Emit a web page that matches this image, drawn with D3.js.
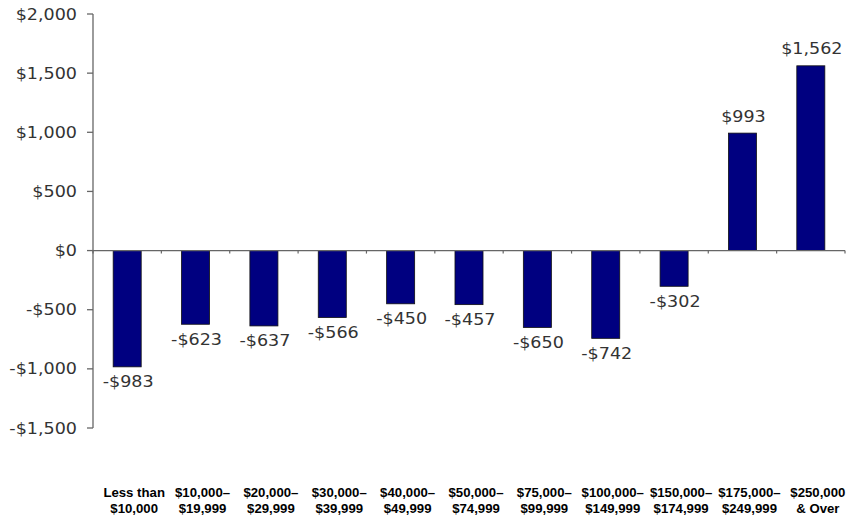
<!DOCTYPE html>
<html><head><meta charset="utf-8">
<script src="https://cdn.jsdelivr.net/npm/d3@7"></script>
<style>body{margin:0;background:#fff;} svg{display:block;}</style>
</head><body>
<svg id="chart" width="850" height="518"></svg>
<script>
const categoriesLine1 = ["Less than","$10,000–","$20,000–","$30,000–","$40,000–","$50,000–","$75,000–","$100,000–","$150,000–","$175,000–","$250,000"];
const categoriesLine2 = ["$10,000","$19,999","$29,999","$39,999","$49,999","$74,999","$99,999","$149,999","$174,999","$249,999","& Over"];
const values = [-983,-623,-637,-566,-450,-457,-650,-742,-302,993,1562];
const valueLabels = ["-$983","-$623","-$637","-$566","-$450","-$457","-$650","-$742","-$302","$993","$1,562"];
const yTicks = [2000,1500,1000,500,0,-500,-1000,-1500];
const yTickLabels = ["$2,000","$1,500","$1,000","$500","$0","-$500","-$1,000","-$1,500"];

(function(){
const svg = d3.select("#chart");
const mLeft = 93, mRight = 845, mTop = 14, mBottom = 428;
const stretch = 1.17;

const x = d3.scaleBand().domain(d3.range(values.length)).range([mLeft, mRight]).padding(0);
const y = d3.scaleLinear().domain([-1500, 2000]).range([mBottom, mTop]);
const barW = x.bandwidth() * 0.41;

// bars
svg.append("g").selectAll("rect").data(values).join("rect")
  .attr("x", (d,i) => x(i) + x.bandwidth()/2 - barW/2)
  .attr("y", d => y(Math.max(0,d)))
  .attr("width", barW)
  .attr("height", d => Math.abs(y(d) - y(0)))
  .attr("fill", "#000080")
  .attr("stroke", "#111")
  .attr("stroke-width", 0.8);

// y axis
const yAxis = svg.append("g");
yAxis.append("line").attr("x1", mLeft).attr("x2", mLeft).attr("y1", y(2000)).attr("y2", y(-1500))
  .attr("stroke", "#666").attr("stroke-width", 1.3);
yAxis.selectAll("line.tk").data(yTicks).join("line").attr("class","tk")
  .attr("x1", mLeft - 6).attr("x2", mLeft).attr("y1", d => y(d)).attr("y2", d => y(d))
  .attr("stroke", "#666").attr("stroke-width", 1.3);
yAxis.selectAll("text").data(yTicks).join("text")
  .attr("transform", d => `translate(${mLeft - 16},${y(d) + 5.5}) scale(${stretch},1)`)
  .attr("text-anchor", "end")
  .attr("font-family", "DejaVu Sans, Verdana, sans-serif")
  .attr("font-size", 15)
  .attr("fill", "#333")
  .text((d,i) => yTickLabels[i]);

// x axis along zero
const xAxis = svg.append("g");
xAxis.append("line").attr("x1", mLeft).attr("x2", mRight).attr("y1", y(0)).attr("y2", y(0))
  .attr("stroke", "#666").attr("stroke-width", 1.3);
const boundaries = d3.range(values.length + 1).map(i => mLeft + i * x.bandwidth());
xAxis.selectAll("line.tk").data(boundaries).join("line").attr("class","tk")
  .attr("x1", d => d).attr("x2", d => d).attr("y1", y(0)).attr("y2", y(0) + 3)
  .attr("stroke", "#666").attr("stroke-width", 1.2);

// value labels
svg.append("g").selectAll("text").data(values).join("text")
  .attr("transform", (d,i) => {
    const cx = x(i) + x.bandwidth()/2 + 1;
    const yy = d < 0 ? y(d) + 20.5 : y(d) - 11.5;
    return `translate(${cx},${yy}) scale(${stretch},1)`;
  })
  .attr("text-anchor", "middle")
  .attr("font-family", "DejaVu Sans, Verdana, sans-serif")
  .attr("font-size", 15)
  .attr("fill", "#333")
  .text((d,i) => valueLabels[i]);

// category labels
const cat = svg.append("g");
[categoriesLine1, categoriesLine2].forEach((arr, row) => {
  cat.append("g").selectAll("text").data(arr).join("text")
    .attr("transform", (d,i) => `translate(${x(i) + x.bandwidth()/2 + 7},${497 + row*16}) scale(1.1,1)`)
    .attr("text-anchor", "middle")
    .attr("font-family", "Liberation Sans, Arial, sans-serif")
    .attr("font-weight", "bold")
    .attr("font-size", 12)
    .attr("fill", "#000")
    .text(d => d);
});
})();
</script>
</body></html>
